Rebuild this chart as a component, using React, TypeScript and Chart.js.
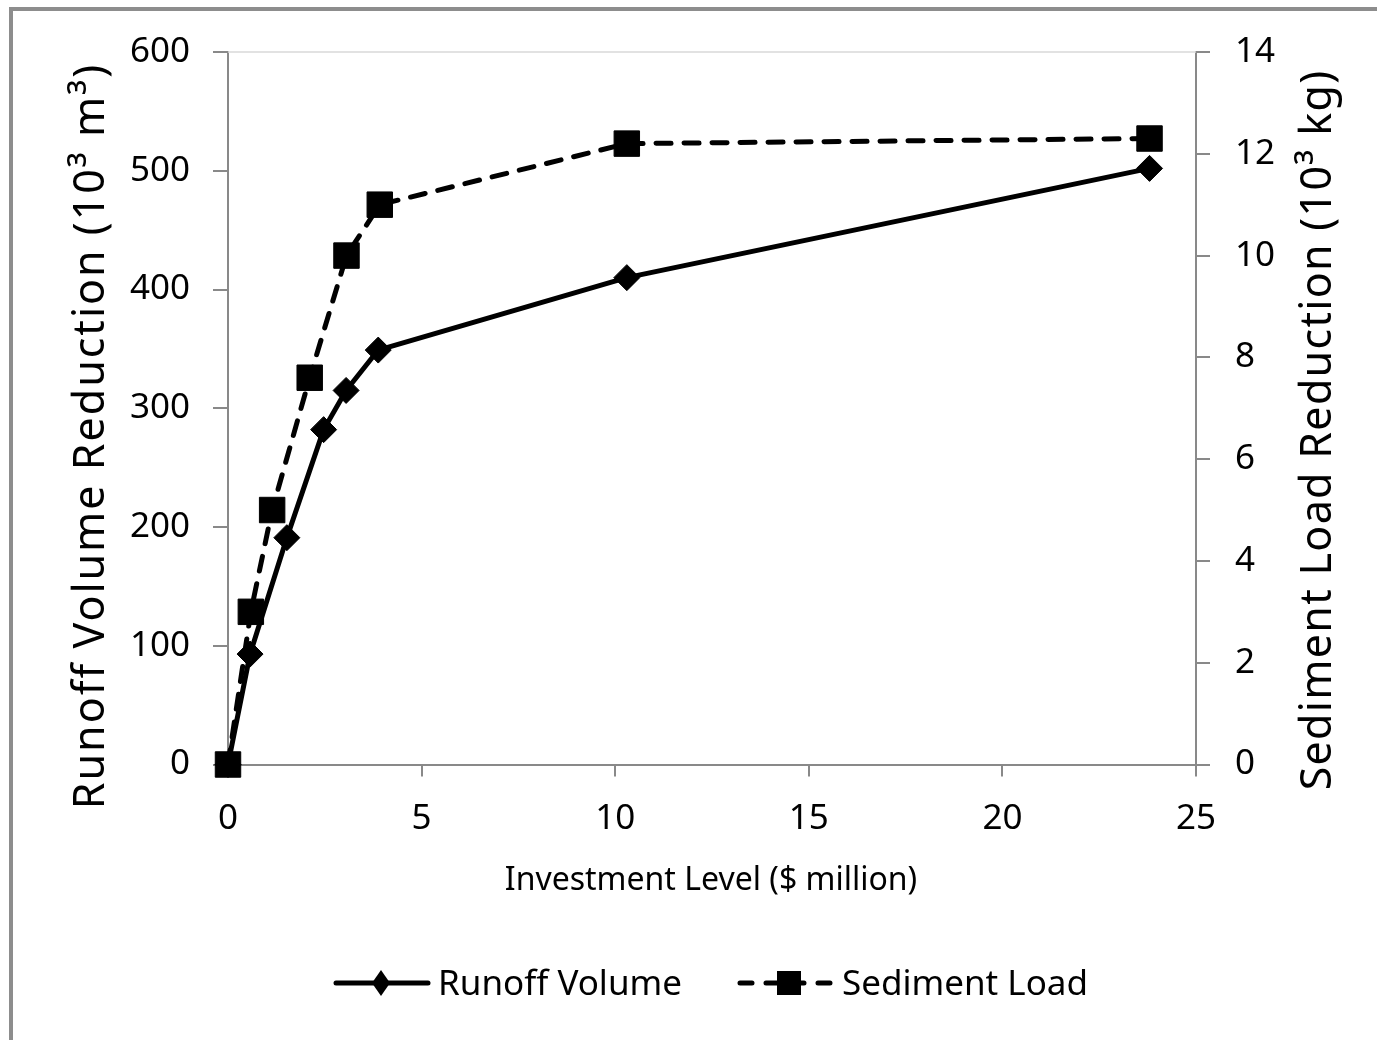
import React, { useEffect, useRef } from 'react';
import { Chart, registerables } from 'chart.js';

Chart.register(...registerables);

// ---- data ----
const runoffX = [0, 0.57, 1.52, 2.47, 3.05, 3.88, 10.3, 23.8];
const runoffY = [0, 93, 191, 282, 315, 349, 410, 502];
const sedimentX = [0, 0.59, 1.14, 2.11, 3.06, 3.92, 10.3, 23.8];
const sedimentY = [0, 3.0, 5.0, 7.6, 10.0, 11.0, 12.2, 12.3];
const seriesNames = ['Runoff Volume', 'Sediment Load'];
const xRange = [0, 25, 5];
const yLeftRange = [0, 600, 100];
const yRightRange = [0, 14, 2];
const xTitle = 'Investment Level ($ million)';
const yLeftTitle = 'Runoff Volume Reduction (10³ m³)';
const yRightTitle = 'Sediment Load Reduction (10³ kg)';

const FONT = '"Noto Sans", "DejaVu Sans", sans-serif';
const AXIS = '#898989';

const decorPlugin = {
  id: 'decor',
  afterDraw(chart: any) {
    const { ctx, chartArea } = chart;
    ctx.save();
    // plot-area top edge
    ctx.strokeStyle = '#d9d9d9';
    ctx.lineWidth = 1.5;
    ctx.beginPath();
    ctx.moveTo(chartArea.left, chartArea.top);
    ctx.lineTo(chartArea.right, chartArea.top);
    ctx.stroke();

    // axis titles
    ctx.fillStyle = '#000';
    ctx.textAlign = 'center';
    ctx.textBaseline = 'middle';
    ctx.font = `32px ${FONT}`;
    ctx.fillText(xTitle, 711, 881);

    ctx.font = `43px ${FONT}`;
    ctx.save();
    (ctx as any).letterSpacing = '2px';
    ctx.translate(92, 436);
    ctx.rotate(-Math.PI / 2);
    ctx.fillText(yLeftTitle, 0, 0);
    ctx.restore();

    ctx.save();
    (ctx as any).letterSpacing = '1.3px';
    ctx.translate(1319, 430);
    ctx.rotate(-Math.PI / 2);
    ctx.fillText(yRightTitle, 0, 0);
    ctx.restore();

    // legend
    const ly = 983;
    ctx.strokeStyle = '#000';
    ctx.fillStyle = '#000';
    ctx.lineWidth = 5;
    ctx.lineCap = 'round';
    ctx.setLineDash([]);
    ctx.beginPath();
    ctx.moveTo(336, ly);
    ctx.lineTo(428, ly);
    ctx.stroke();
    ctx.beginPath();
    ctx.moveTo(381 - 9, ly);
    ctx.lineTo(381, ly - 13);
    ctx.lineTo(381 + 9, ly);
    ctx.lineTo(381, ly + 13);
    ctx.closePath();
    ctx.fill();

    ctx.setLineDash([12, 14]);
    ctx.beginPath();
    ctx.moveTo(740, ly);
    ctx.lineTo(836, ly);
    ctx.stroke();
    ctx.setLineDash([]);
    ctx.fillRect(789 - 12, ly - 12, 24, 24);

    ctx.font = `35px ${FONT}`;
    ctx.textAlign = 'left';
    ctx.fillText(seriesNames[0], 438, ly + 2);
    ctx.fillText(seriesNames[1], 842, ly + 2);
    ctx.restore();
  },
};

export default function App() {
  const ref = useRef<HTMLCanvasElement | null>(null);

  useEffect(() => {
    if (!ref.current) return;
    const tickFont = { family: FONT, size: 35 };
    const chart = new Chart(ref.current, {
      type: 'line',
      data: {
        datasets: [
          {
            label: seriesNames[0],
            data: runoffX.map((x, i) => ({ x, y: runoffY[i] })),
            yAxisID: 'y',
            borderColor: '#000',
            backgroundColor: '#000',
            borderWidth: 5,
            borderJoinStyle: 'round',
            pointStyle: 'rectRot',
            pointRadius: 13,
            pointBorderWidth: 1,
            pointBackgroundColor: '#000',
            pointBorderColor: '#000',
            tension: 0,
            clip: false,
            order: 1,
          },
          {
            label: seriesNames[1],
            data: sedimentX.map((x, i) => ({ x, y: sedimentY[i] })),
            yAxisID: 'y1',
            borderColor: '#000',
            backgroundColor: '#000',
            borderWidth: 5,
            borderDash: [15, 13],
            borderCapStyle: 'round',
            borderJoinStyle: 'round',
            pointStyle: 'rect',
            pointRadius: 18,
            pointBorderWidth: 1,
            pointBackgroundColor: '#000',
            pointBorderColor: '#000',
            tension: 0,
            clip: false,
            order: 0,
          },
        ],
      },
      options: {
        animation: false,
        responsive: false,
        devicePixelRatio: 1,
        layout: { padding: { top: 52, left: 0, right: 0, bottom: 0 } },
        plugins: { legend: { display: false }, tooltip: { enabled: false } },
        scales: {
          x: {
            type: 'linear',
            min: xRange[0],
            max: xRange[1],
            ticks: { stepSize: xRange[2], font: tickFont, color: '#000', padding: 22 },
            grid: { drawOnChartArea: false, drawTicks: true, tickLength: 12, color: AXIS, lineWidth: 2 },
            border: { color: AXIS, width: 2 },
            afterFit: (s: any) => { s.height = 275.5; },
          },
          y: {
            type: 'linear',
            position: 'left',
            min: yLeftRange[0],
            max: yLeftRange[1],
            ticks: { stepSize: yLeftRange[2], font: tickFont, color: '#000', padding: 23 },
            grid: { drawOnChartArea: false, drawTicks: true, tickLength: 15, color: AXIS, lineWidth: 2 },
            border: { color: AXIS, width: 2 },
            afterFit: (s: any) => { s.width = 228; },
          },
          y1: {
            type: 'linear',
            position: 'right',
            min: yRightRange[0],
            max: yRightRange[1],
            ticks: { stepSize: yRightRange[2], font: tickFont, color: '#000', padding: 25 },
            grid: { drawOnChartArea: false, drawTicks: true, tickLength: 14, color: AXIS, lineWidth: 2 },
            border: { color: AXIS, width: 2 },
            afterFit: (s: any) => { s.width = 181; },
          },
        },
      },
      plugins: [decorPlugin],
    } as any);
    return () => chart.destroy();
  }, []);

  return (
    <div style={{ position: 'absolute', left: 0, top: 0, width: 1377, height: 1040, overflow: 'hidden', background: '#fff' }}>
      <div style={{ position: 'absolute', left: 9, top: 7, width: 1500, height: 1200, border: '4px solid #8d8d8d' }} />
      <canvas ref={ref} width={1377} height={1040} style={{ position: 'absolute', left: 0, top: 0, width: 1377, height: 1040 }} />
    </div>
  );
}
